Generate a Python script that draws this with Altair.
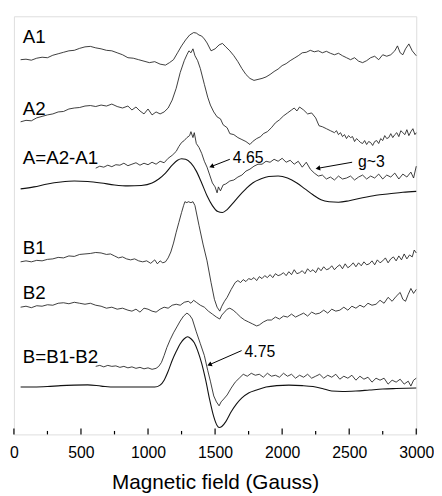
import altair as alt
import pandas as pd

# Readings (magnetic field in Gauss, trace level;
# level = distance below the top of the frame, larger = lower on the page)
A1 = [(50,57),(90,56.5),(130,57.5),(170,55.5),(210,54.5),(250,55),(290,52.5),(330,51),(370,49.5),(410,48),
      (450,47.5),(490,45.5),(530,44),(570,43.5),(610,45),(650,46),(690,47.5),(730,48),(770,50),(810,52),
      (850,55),(890,55.5),(930,57),(970,58.5),(1010,60),(1050,59),(1090,61.5),(1130,62.5),(1160,60),(1190,57),
      (1220,50),(1250,43),(1280,37),(1310,32),(1340,29.5),(1360,30),(1380,32),(1400,33),(1420,36),(1440,40),
      (1470,48),(1500,46),(1530,42),(1555,40.5),(1580,44),(1610,48),(1640,53),(1670,59),(1700,66),(1730,72),
      (1760,76),(1790,78),(1820,77),(1850,76),(1880,74.5),(1910,72),(1940,69),(1970,66.5),(2000,63),(2030,61),
      (2060,58),(2090,55.5),(2120,53),(2150,50),(2180,49.5),(2210,47.5),(2240,49),(2270,48),(2300,50),(2330,48.5),
      (2360,50.5),(2390,52),(2420,50.5),(2450,53),(2480,55),(2510,57),(2540,55),(2570,58.5),(2600,60),(2630,58),
      (2660,55),(2690,53.5),(2720,57),(2750,52),(2780,53.5),(2810,52),(2840,48),(2860,43),(2880,50),(2900,52),
      (2920,46),(2945,41),(2970,48),(3000,53)]

A2 = [(50,120),(90,118.5),(130,119),(170,116),(210,114.5),(250,113),(290,112),(330,110),(370,109.5),(410,107),
      (450,106),(490,105.5),(530,104),(570,103.5),(610,104.5),(650,103),(690,104),(730,102),(770,104.5),(810,106),
      (850,104),(880,108),(910,105),(940,109),(970,112),(1000,107),(1030,113),(1060,110),(1090,112),(1120,110),
      (1150,106),(1180,98),(1210,86),(1240,70),(1270,58),(1290,52),(1305,48),(1320,50),(1335,46),(1350,53),
      (1370,58),(1390,66),(1420,82),(1445,95),(1465,103),(1490,110),(1515,115),(1540,117),(1560,123),(1590,126),
      (1610,132),(1640,133),(1670,136),(1700,138),(1730,140),(1760,143),(1780,140),(1810,137),(1840,135),(1860,132),
      (1890,130),(1920,126),(1950,121),(1980,118),(2010,114),(2040,111),(2070,108),(2090,106),(2110,109),(2130,105),
      (2160,108),(2190,112),(2220,111),(2250,116),(2275,124),(2300,125),(2330,127),(2360,129),(2390,131),(2405,129),
      (2420,133),(2435,131),(2450,135),(2465,133),(2480,137),(2495,134),(2510,136),(2525,135),(2540,140),(2555,137),
      (2570,139),(2585,141),(2600,142),(2615,139),(2630,143),(2645,140),(2660,141),(2675,144),(2690,140),(2705,139),
      (2720,142),(2735,137),(2750,139),(2765,134),(2780,137),(2795,136),(2810,132),(2825,136),(2840,133),(2855,131),
      (2870,135),(2885,129),(2900,131),(2915,133),(2930,128),(2945,134),(2960,130),(2975,127),(2990,133),(3000,131)]

A_DIFF = [(610,167),(640,165),(670,166),(700,164),(730,165.5),(760,163.5),(790,164),(820,162),(850,164.5),(880,163),
          (910,161.5),(940,164),(970,162),(1000,163.5),(1030,161),(1060,163),(1090,160),(1120,161.5),(1150,157),(1180,154),
          (1210,150),(1230,145),(1250,141),(1270,139),(1290,136),(1310,134),(1320,130),(1335,136),(1345,131),(1360,142),
          (1380,146),(1400,152),(1420,160),(1440,166),(1460,174),(1480,182),(1500,186),(1515,192),(1525,186),(1540,190),
          (1560,184),(1580,183),(1610,180),(1640,179),(1670,176),(1700,174),(1730,170),(1760,168),(1790,165),(1820,163),
          (1850,163),(1880,160),(1910,161),(1940,158),(1970,160),(2000,157),(2030,161),(2060,159),(2090,163),(2120,160),
          (2150,166),(2180,161),(2210,168),(2240,172),(2270,175),(2300,174),(2330,178),(2360,176),(2390,179),(2420,175),
          (2450,178),(2480,177),(2510,175),(2540,179),(2570,176),(2600,174),(2630,178),(2660,175),(2690,177),(2720,173),
          (2750,178),(2780,174),(2810,176),(2840,172),(2870,178),(2900,173),(2930,176),(2960,171),(2980,177),(3000,165)]

A_FIT = [(50,188),(150,186),(250,183),(350,181),(450,180),(550,180.5),(650,182),(750,184),(850,185),(950,184.5),
         (1030,182),(1080,178),(1130,172),(1180,164),(1220,159),(1250,157.5),(1280,158),(1320,162),(1360,170),(1400,182),
         (1440,195),(1480,205),(1520,211),(1555,212),(1590,209),(1630,203),(1680,195),(1730,188),(1780,182),(1840,178),
         (1900,175.5),(1970,175),(2040,177),(2110,182),(2170,188),(2230,194),(2290,199),(2350,201),(2420,201.5),(2500,200),
         (2600,197),(2700,194.5),(2800,193),(2900,191.5),(3000,190.5)]

B1 = [(50,262),(90,261),(130,262),(170,260.5),(210,261),(250,259.5),(290,259),(330,257.5),(370,258),(410,256),
      (450,256.5),(490,254.5),(530,254),(570,253.5),(610,252.5),(650,253),(690,254.5),(720,254),(750,256),(780,258),
      (810,257),(840,259),(870,260),(900,259),(930,261),(960,262),(990,261),(1020,263.5),(1050,260),(1070,264),
      (1090,261),(1110,263),(1130,262),(1150,258),(1170,252),(1190,243),(1210,232),(1230,222),(1250,212),(1265,205),
      (1275,201),(1290,202),(1300,201),(1320,202),(1335,201),(1350,205),(1380,225),(1410,244),(1440,261),(1470,283),
      (1495,300),(1515,308),(1535,312),(1550,307),(1570,302),(1590,298),(1620,290),(1650,283),(1670,281),(1690,283),
      (1710,280),(1730,282),(1750,279),(1770,280),(1790,278),(1810,281),(1830,277),(1850,279),(1870,276),(1890,278),
      (1910,275),(1930,278),(1950,274),(1970,276),(1990,275),(2010,273),(2030,276),(2050,272),(2070,275),(2090,270),
      (2110,274),(2130,273),(2150,271),(2170,274),(2190,269),(2210,272),(2230,270),(2250,273),(2270,268),(2290,271),
      (2310,267),(2330,270),(2350,269),(2370,266),(2390,270),(2410,267),(2430,265),(2450,269),(2470,264),(2490,268),
      (2510,266),(2530,263),(2550,267),(2570,263),(2590,266),(2610,262),(2630,265),(2650,264),(2670,261),(2690,265),
      (2710,260),(2730,263),(2750,261),(2770,258),(2790,263),(2810,259),(2830,257),(2850,261),(2870,256),(2890,260),
      (2910,254),(2930,259),(2950,255),(2970,257),(2985,250),(3000,253)]

B2 = [(50,308),(90,307),(130,308.5),(170,306.5),(210,307),(250,305.5),(290,306),(330,304),(370,303.5),(410,304.5),
      (450,303),(490,304),(530,305),(570,304),(610,306),(650,307),(690,309),(730,308),(770,310),(810,309),
      (850,311),(880,312),(910,310),(940,313),(970,309),(1000,310),(1030,312),(1060,313),(1090,310),(1120,308),
      (1150,309),(1180,306),(1210,305),(1240,306),(1270,303),(1300,302),(1320,304),(1340,301),(1360,303),(1390,306),
      (1420,308),(1450,312),(1480,315),(1510,318),(1535,320),(1550,316),(1570,313),(1590,310),(1610,309),(1635,311),
      (1660,314),(1690,318),(1720,321),(1750,323),(1780,325),(1810,327),(1830,326),(1860,323),(1890,321),(1920,321),
      (1950,318),(1980,320),(2010,317),(2040,318),(2070,315),(2100,318),(2130,316),(2160,314),(2190,317),(2220,313),
      (2250,315),(2280,314),(2310,311),(2340,314),(2370,310),(2400,312),(2430,311),(2460,308),(2490,311),(2520,307),
      (2550,309),(2580,306),(2610,308),(2640,304),(2670,306),(2700,305),(2730,301),(2760,304),(2790,298),(2820,302),
      (2850,297),(2880,293),(2900,300),(2920,302),(2940,295),(2960,289),(2980,294),(3000,290)]

B_DIFF = [(610,368),(640,367),(670,368.5),(700,367),(730,368),(760,367.5),(790,369),(820,368),(850,369.5),(880,368.5),
          (910,370),(940,369),(970,370.5),(1000,369.5),(1030,371),(1060,370),(1080,368),(1100,364),(1120,357),(1140,349),
          (1165,341),(1190,334),(1215,328),(1240,322),(1265,317),(1290,314),(1310,316),(1330,320),(1360,333),(1390,345),
          (1420,357),(1445,372),(1465,383),(1490,398),(1510,404),(1530,408),(1545,404),(1565,401),(1590,397),(1620,390),
          (1650,384),(1680,380),(1710,376),(1740,378),(1770,375),(1800,377),(1830,376),(1860,379),(1890,375),(1920,378),
          (1950,377),(1980,379),(2010,375),(2040,378),(2070,376),(2100,380),(2130,377),(2160,379),(2190,376),(2220,380),
          (2250,378),(2280,376),(2310,380),(2340,377),(2370,379),(2400,376),(2430,381),(2460,378),(2490,380),(2520,377),
          (2550,382),(2580,378),(2610,381),(2640,379),(2670,384),(2700,380),(2730,382),(2760,380),(2790,386),(2820,382),
          (2850,384),(2880,381),(2910,386),(2940,383),(2960,388),(2980,382),(3000,380)]

B_FIT = [(50,389),(150,389),(250,388.5),(350,387.5),(450,387),(550,386.8),(650,388),(750,389),(850,389),(950,389),
         (1050,389),(1090,387),(1120,382),(1150,373),(1180,362),(1210,353),(1240,345),(1270,340),(1295,338),(1320,340),
         (1345,344),(1370,352),(1400,365),(1430,382),(1460,402),(1490,419),(1515,428),(1530,430),(1550,429),(1580,424),
         (1620,414),(1660,406),(1700,400),(1750,395),(1810,392),(1880,389),(1960,387.5),(2050,387),(2150,387.5),(2230,388.5),
         (2300,390.5),(2370,393),(2450,393.5),(2550,393),(2650,392),(2750,391),(2850,390.5),(3000,390)]

TRACES = [("A1", A1, "raw"), ("A2", A2, "raw"), ("A", A_DIFF, "raw"), ("A fit", A_FIT, "fit"),
          ("B1", B1, "raw"), ("B2", B2, "raw"), ("B", B_DIFF, "raw"), ("B fit", B_FIT, "fit")]

LABELS = ["A1", "A2", "A=A2-A1", "B1", "B2", "B=B1-B2"]
LABEL_G = [66, 66, 66, 66, 66, 66]
LABEL_V = [40, 113, 163, 254, 300, 365]

NOTE_TEXT = ["4.65", "g~3", "4.75"]
NOTE_G = [1632, 2566, 1720]
NOTE_V = [162, 166, 358]
ARROW_G = [1610, 2522, 1698]
ARROW_V = [158, 161, 352]
HEAD_G = [1478, 2272, 1463]
HEAD_V = [165, 167, 366]
HEAD_ANGLE = [249, 260, 246]

MAJOR_TICKS = [0, 500, 1000, 1500, 2000, 2500, 3000]
MINOR_TICKS = [250, 750, 1250, 1750, 2250, 2750]

rows = []
for name, pts, kind in TRACES:
    for g, v in pts:
        rows.append({"series": name, "G": g, "v": v, "kind": kind})
df = pd.DataFrame(rows)

FONT = "Liberation Sans"
W, H = 408, 424
xs = alt.Scale(domain=[0, 3000], nice=False, zero=False)
ys = alt.Scale(domain=[13, 437], reverse=True, nice=False, zero=False)

xenc = alt.X("G:Q", scale=xs,
             axis=alt.Axis(values=MAJOR_TICKS, format="d", ticks=False, domain=False, grid=False,
                           labelFontSize=16, labelFont=FONT, labelColor="black",
                           labelPadding=10, labelFlush=False,
                           title="Magnetic field (Gauss)", titleFont=FONT,
                           titleFontSize=21, titleFontWeight="normal",
                           titleColor="black", titlePadding=12))
yenc = alt.Y("v:Q", scale=ys, axis=None)

raw = alt.Chart(df[df.kind == "raw"]).mark_line(strokeWidth=0.85, color="#1a1a1a").encode(
    x=xenc, y=yenc, detail="series:N", order="G:Q")
fit = alt.Chart(df[df.kind == "fit"]).mark_line(strokeWidth=1.1, color="#111111",
                                                 interpolate="monotone").encode(
    x=alt.X("G:Q", scale=xs), y=yenc, detail="series:N", order="G:Q")

lab_df = pd.DataFrame({"t": LABELS, "G": LABEL_G, "v": LABEL_V})
labels = alt.Chart(lab_df).mark_text(align="left", baseline="alphabetic", fontSize=19,
                                     font=FONT, color="black").encode(
    x=alt.X("G:Q", scale=xs), y=alt.Y("v:Q", scale=ys), text="t:N")

note_df = pd.DataFrame({"t": NOTE_TEXT, "G": NOTE_G, "v": NOTE_V,
                        "G1": ARROW_G, "v1": ARROW_V, "G2": HEAD_G, "v2": HEAD_V,
                        "ang": HEAD_ANGLE})
notes = alt.Chart(note_df).mark_text(align="left", baseline="alphabetic", fontSize=16,
                                     font=FONT, color="black").encode(
    x=alt.X("G:Q", scale=xs), y=alt.Y("v:Q", scale=ys), text="t:N")
shafts = alt.Chart(note_df).mark_rule(color="black", strokeWidth=1).encode(
    x=alt.X("G1:Q", scale=xs), y=alt.Y("v1:Q", scale=ys), x2="G2:Q", y2="v2:Q")
heads = alt.Chart(note_df).mark_point(shape="triangle", filled=True, color="black",
                                      size=28, opacity=1).encode(
    x=alt.X("G2:Q", scale=xs), y=alt.Y("v2:Q", scale=ys), angle=alt.Angle("ang:Q", scale=None))

tick_df = pd.DataFrame({"G": MAJOR_TICKS + MINOR_TICKS,
                        "len": ["major"] * len(MAJOR_TICKS) + ["minor"] * len(MINOR_TICKS)})
major = alt.Chart(tick_df[tick_df.len == "major"]).mark_rule(color="black", strokeWidth=1.2).encode(
    x=alt.X("G:Q", scale=xs), y=alt.value(H), y2=alt.value(H - 6))
minor = alt.Chart(tick_df[tick_df.len == "minor"]).mark_rule(color="black", strokeWidth=1.2).encode(
    x=alt.X("G:Q", scale=xs), y=alt.value(H), y2=alt.value(H - 3.5))

chart = alt.layer(raw, fit, labels, notes, shafts, heads, major, minor).properties(
    width=W, height=H,
    autosize=alt.AutoSizeParams(type="none"),
    padding={"left": 6, "top": 5, "right": 18, "bottom": 56},
).configure_view(stroke="black", strokeWidth=1.3).configure(background="white")

chart.save("out.html", embed_options={"renderer": "svg", "actions": False})
